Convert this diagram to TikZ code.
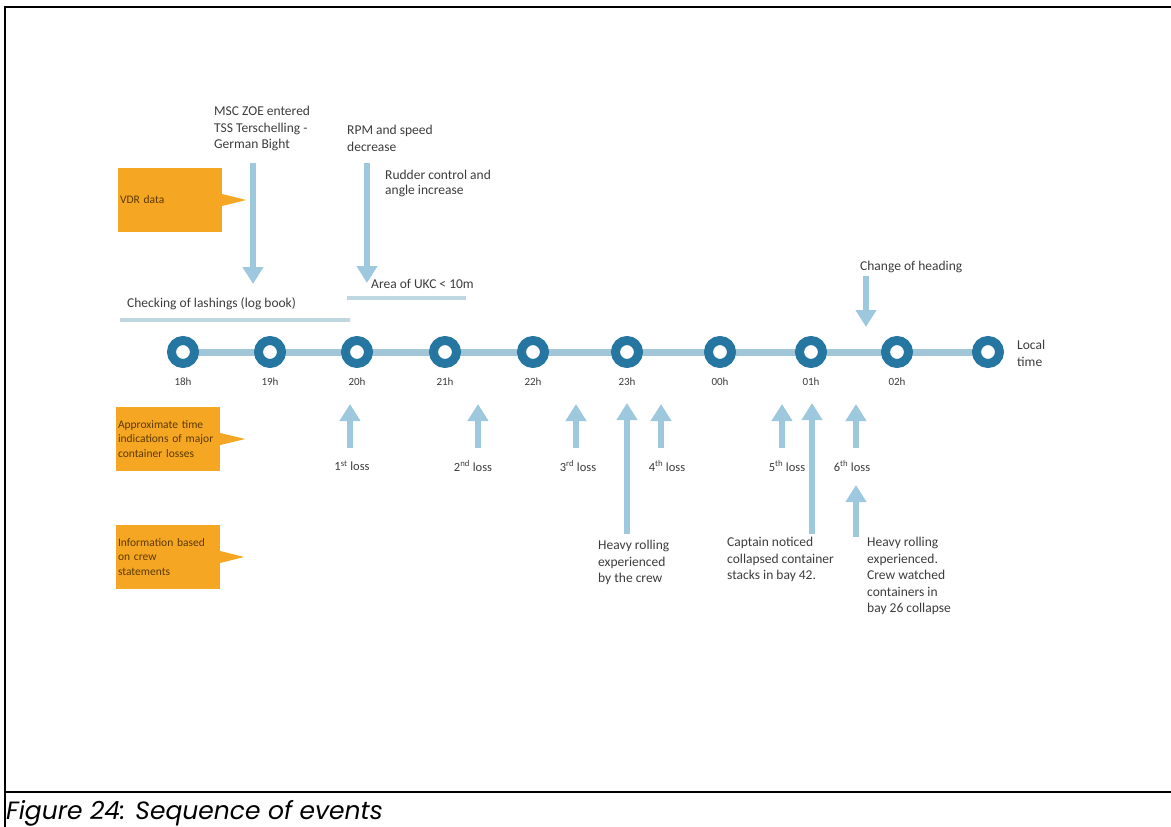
\documentclass[tikz,border=0pt]{standalone}
\usepackage{fontspec}
\setmainfont{Carlito}
\newfontfamily\capfont{Poppins}
\usetikzlibrary{arrows.meta}
\hyphenpenalty=10000
\exhyphenpenalty=10000
\definecolor{arrowblue}{RGB}{158,200,222}
\definecolor{lineblue}{RGB}{160,198,215}
\definecolor{ringblue}{RGB}{38,118,162}
\definecolor{barblue}{RGB}{190,215,225}
\definecolor{boxorange}{RGB}{245,166,35}
\definecolor{boxtext}{RGB}{92,58,0}
\definecolor{txt}{RGB}{60,60,60}
\tikzset{
  arr/.style={draw=arrowblue, line width=6pt, -{Triangle[width=20pt,length=17pt]}},
  ring/.style={circle, draw=ringblue, line width=9pt, minimum size=23pt, inner sep=0pt, fill=white},
  lbl/.style={font=\fontsize{13.5}{16.5}\selectfont, text=txt, inner sep=0pt, align=left},
  tlbl/.style={font=\fontsize{11}{13}\selectfont, text=txt, inner sep=0pt},
  obox/.style={fill=boxorange, minimum width=103pt, minimum height=64pt, inner sep=2pt,
    font=\fontsize{11.5}{14.5}\selectfont, text=boxtext, align=left, text width=100pt},
  bar/.style={draw=barblue, line width=4.5pt},
}
\begin{document}
\begin{tikzpicture}[x=1pt,y=-1pt]
\useasboundingbox (0,0) rectangle (1171,827);
% frame
\draw[line width=2.5pt] (5,827) -- (5,7) -- (1171,7);
\draw[line width=2.5pt] (5,792) -- (1171,792);
\node[anchor=base west, inner sep=0pt, font=\capfont\itshape\fontsize{25}{27}\selectfont] (cap) at (6,819) {Figure 24: Sequence of events};

% orange callout boxes
\node[obox] (vdr) at (170,200) {VDR data};
\fill[boxorange] (vdr.east) ++(0,-6) -- ++(24,6) -- ++(-24,6) -- cycle;
\node[obox] (appr) at (168,439) {Approximate time\\indications of major\\container losses};
\fill[boxorange] (appr.east) ++(0,-6) -- ++(25,6) -- ++(-25,6) -- cycle;
\node[obox] (info) at (168,557) {Information based\\on crew\\statements};
\fill[boxorange] (info.east) ++(0,-6) -- ++(24,6) -- ++(-24,6) -- cycle;

% timeline
\coordinate (tl0) at (183,352);
\coordinate (tl1) at (988,352);
\draw[draw=lineblue, line width=7pt] (tl0) -- (tl1);
\foreach \x/\n/\t in {183/a/18h,270/b/19h,357/c/20h,445/d/21h,533/e/22h,627/f/23h,720/g/00h,811/h/01h,897/i/02h}{
  \node[ring] (c\n) at (\x,352) {};
  \node[tlbl] (t\n) at (\x,382) {\t};
}
\node[ring] (cj) at (988,352) {};
\node[lbl, anchor=north west] (local) at (1017,340) {Local\\time};

% top annotations
\node[lbl, anchor=north west] (msc) at (214,106) {MSC ZOE entered\\TSS Terschelling -\\German Bight};
\node[lbl, anchor=north west] (rpm) at (347,125) {RPM and speed\\decrease};
\node[lbl, anchor=north west, font=\fontsize{13.5}{14.5}\selectfont] (rud) at (385,170) {Rudder control and\\angle increase};
\node[lbl, anchor=west] (ukc) at (371,284) {Area of UKC < 10m};
\node[lbl, anchor=west] (chk) at (127,304) {Checking of lashings (log book)};
\node[lbl, anchor=west] (hdg) at (860,267) {Change of heading};
\draw[bar] (120,320) coordinate (chkA) -- (350,320) coordinate (chkB);
\draw[bar] (347,298) coordinate (ukcA) -- (466,298) coordinate (ukcB);

\coordinate (m1) at (253,163); \coordinate (m2) at (253,284);
\coordinate (r1) at (367,163); \coordinate (r2) at (367,283);
\coordinate (h1) at (866,276); \coordinate (h2) at (866,327);
\draw[arr] (m1) -- (m2);
\draw[arr] (r1) -- (r2);
\draw[arr] (h1) -- (h2);

% losses
\foreach \x/\n/\s/\lx in {350/1/st/352,478/2/nd/473,576/3/rd/578,661/4/th/667,782/5/th/787,856/6/th/852}{
  \coordinate (la\n) at (\x,448);
  \coordinate (lb\n) at (\x,404);
  \draw[arr] (la\n) -- (lb\n);
  \node[tlbl, font=\fontsize{12.5}{14}\selectfont] (loss\n) at (\lx,466) {\n\textsuperscript{\s} loss};
}
\coordinate (f1) at (627,534); \coordinate (f2) at (627,403);
\coordinate (g1) at (812,534); \coordinate (g2) at (812,403);
\coordinate (k1) at (856,537); \coordinate (k2) at (856,485);
\draw[arr] (f1) -- (f2);
\draw[arr] (g1) -- (g2);
\draw[arr] (k1) -- (k2);

% bottom annotations
\node[lbl, anchor=north west] (hr1) at (598,540) {Heavy rolling\\experienced\\by the crew};
\node[lbl, anchor=north west] (capt) at (727,537) {Captain noticed\\collapsed container\\stacks in bay 42.};
\node[lbl, anchor=north west] (hr2) at (867,537) {Heavy rolling\\experienced.\\Crew watched\\containers in\\bay 26 collapse};
\end{tikzpicture}
\end{document}
